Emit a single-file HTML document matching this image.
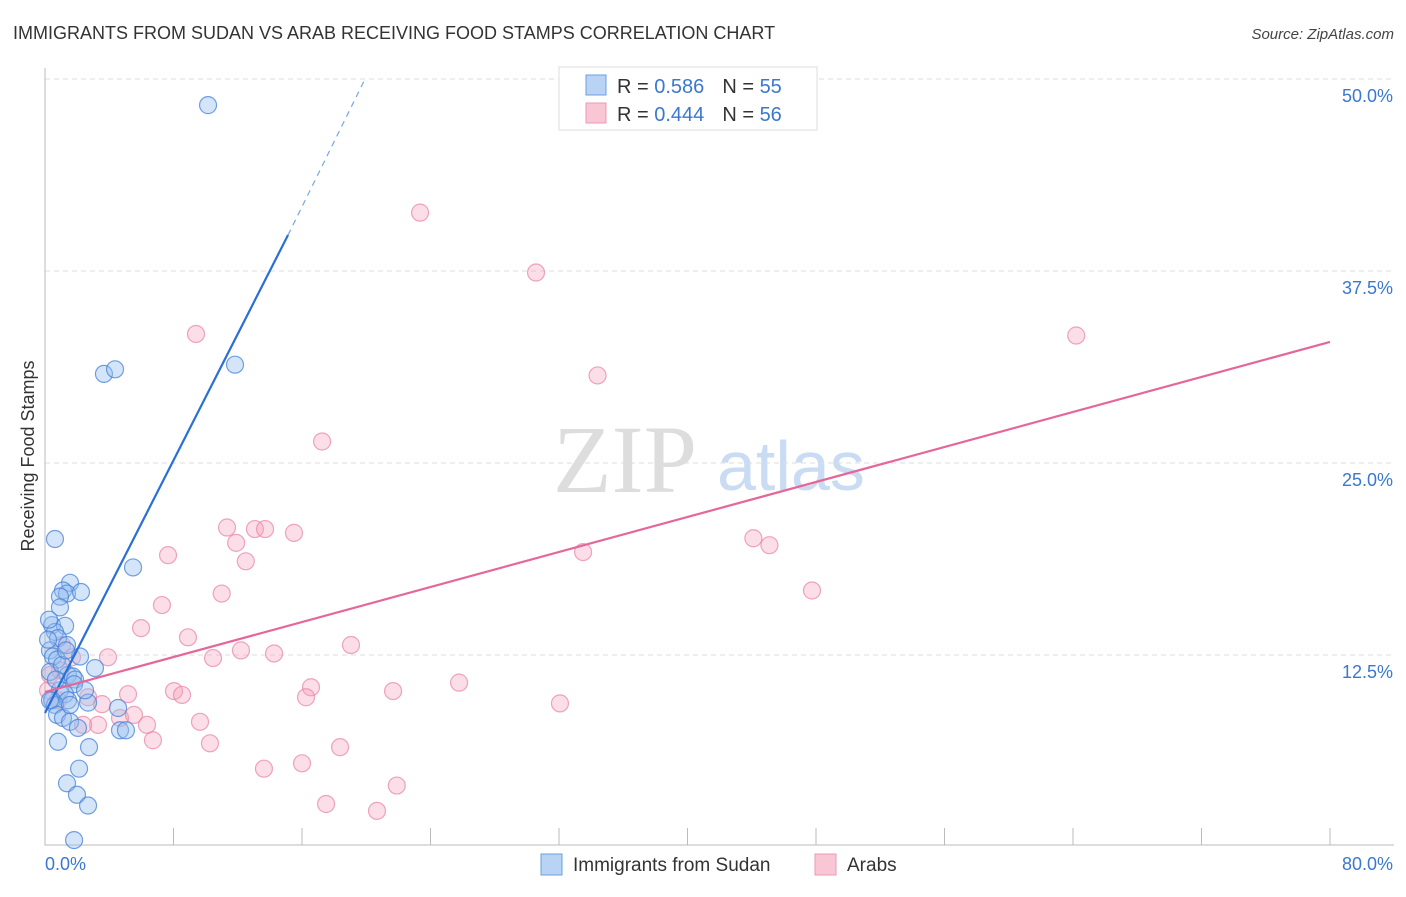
<!DOCTYPE html>
<html><head><meta charset="utf-8"><style>
body{margin:0;background:#fff;font-family:"Liberation Sans",sans-serif}
</style></head><body>
<svg id="chart" width="1406" height="892" xmlns="http://www.w3.org/2000/svg" font-family="Liberation Sans, sans-serif">
<text x="13" y="39" font-size="18" fill="#333">IMMIGRANTS FROM SUDAN VS ARAB RECEIVING FOOD STAMPS CORRELATION CHART</text>
<text x="1394" y="39" font-size="15" fill="#444" text-anchor="end" font-style="italic">Source: ZipAtlas.com</text>
<text x="553" y="492" font-size="96" fill="#ddd" font-family="Liberation Serif, serif">ZIP</text>
<text x="717" y="490" font-size="70" fill="#c9dcf3">atlas</text>
<text transform="translate(34,456) rotate(-90)" font-size="18" fill="#333" text-anchor="middle">Receiving Food Stamps</text>
<g id="grid"></g><g id="axes"></g><g id="pts"></g><g id="lines"></g>
<g>
<rect x="559" y="67" width="258" height="63" fill="#fff" stroke="#ddd"/>
<rect x="586" y="75" width="20" height="20" fill="#b9d3f5" stroke="#6a9fe0"/>
<rect x="586" y="103" width="20" height="20" fill="#f9c6d5" stroke="#eb99b3"/>
<text x="617" y="93" font-size="20" fill="#333">R = <tspan fill="#3a78d0">0.586</tspan><tspan dx="18">N = </tspan><tspan fill="#3a78d0">55</tspan></text>
<text x="617" y="121" font-size="20" fill="#333">R = <tspan fill="#3a78d0">0.444</tspan><tspan dx="18">N = </tspan><tspan fill="#3a78d0">56</tspan></text>
</g>
<g>
<rect x="541" y="854" width="21" height="21" fill="#b9d3f5" stroke="#6a9fe0"/>
<text x="573" y="871" font-size="19" fill="#333">Immigrants from Sudan</text>
<rect x="815" y="854" width="21" height="21" fill="#f9c6d5" stroke="#eb99b3"/>
<text x="847" y="871" font-size="19" fill="#333">Arabs</text>
</g>
</svg>
<script>
const xTicks=[0,8,16,24,32,40,48,56,64,72,80];
const yTicks=[12.5,25,37.5,50];
const yTickLabels=["12.5%","25.0%","37.5%","50.0%"];
const sudanX=[10.15,3.67,4.36,11.83,0.62,5.48,1.56,1.12,1.37,2.24,0.93,0.93,0.44,1.25,0.62,0.81,1.37,0.31,0.5,2.18,0.75,3.11,0.31,1.43,1.74,1.87,1.81,0.93,1.25,0.44,1.43,0.62,2.68,4.55,0.75,1.12,1.56,2.05,4.67,5.04,0.81,2.74,2.12,1.37,1.99,2.68,1.81,0.31,0.19,1.06,1.56,1.31,0.68,2.49,0.25];
const sudanY=[48.3,30.8,31.1,31.4,20.05,18.2,17.2,16.7,16.5,16.6,16.3,15.6,14.45,14.4,14.0,13.6,13.15,12.8,12.4,12.4,12.2,11.65,11.4,11.2,11.1,10.9,10.6,10.2,9.95,9.55,9.55,9.25,9.4,9.05,8.6,8.4,8.15,7.75,7.6,7.6,6.85,6.5,5.1,4.15,3.4,2.7,0.45,9.55,13.5,11.85,9.25,12.8,10.9,10.2,14.8];
const arabX=[23.35,30.57,9.4,64.2,34.4,17.25,11.33,13.07,13.7,15.5,11.9,44.1,45.1,7.66,12.5,33.5,47.75,7.28,11.0,5.98,8.9,19.05,12.2,14.26,10.46,3.92,1.06,1.68,0.93,0.19,0.31,16.56,25.78,21.67,8.03,8.53,5.17,16.25,2.68,32.06,3.55,4.67,5.54,6.35,9.65,3.3,2.37,6.72,10.27,18.37,16.0,13.63,21.9,17.5,20.67,0.81];
const arabY=[41.3,37.4,33.4,33.3,30.7,26.4,20.8,20.7,20.7,20.45,19.8,20.1,19.65,19.0,18.6,19.2,16.7,15.75,16.5,14.25,13.65,13.15,12.8,12.6,12.3,12.35,13.15,12.35,11.5,10.2,11.2,10.4,10.7,10.15,10.15,9.9,9.95,9.75,9.75,9.35,9.3,8.4,8.6,7.95,8.15,7.95,7.95,6.95,6.75,6.5,5.45,5.1,4.0,2.8,2.35,9.55];
const sudanLine=[[0,8.72],[15.13,39.84],[19.92,49.99]];
const arabLine=[[0,10.09],[80,32.88]];
const NS="http://www.w3.org/2000/svg";
const sx=v=>45+v/80*1285, sy=v=>847-v/12.5*192;
function mk(p,t,a){const e=document.createElementNS(NS,t);for(const k in a)e.setAttribute(k,a[k]);p.appendChild(e);return e;}
const grid=document.getElementById('grid'),axes=document.getElementById('axes'),pts=document.getElementById('pts'),lines=document.getElementById('lines');
yTicks.forEach((t,i)=>{
 const g=mk(grid,'line',{x1:45,x2:1394,y1:sy(t),y2:sy(t),stroke:'#ddd','stroke-dasharray':'5,4'});
 
 
 const l=mk(axes,'text',{x:1393,y:sy(t)+23,'font-size':18,fill:'#3a78d0','text-anchor':'end'});
 l.textContent=yTickLabels[i];
 
 
});
const ax=mk(axes,'path',{d:'M45,68 V845 H1394',fill:'none',stroke:'#bbb'});


xTicks.forEach(t=>{
 const k=mk(axes,'line',{x1:sx(t),x2:sx(t),y1:828,y2:845,stroke:'#bbb'});
 
 
});
const x0=mk(axes,'text',{x:45,y:870,'font-size':18,fill:'#3a78d0'});x0.textContent='0.0%';


const x1=mk(axes,'text',{x:1393,y:870,'font-size':18,fill:'#3a78d0','text-anchor':'end'});x1.textContent='80.0%';


arabX.forEach((v,i)=>{
 const c=mk(pts,'circle',{cx:sx(v),cy:sy(arabY[i]),r:8.5,fill:'rgba(244,160,186,0.35)',stroke:'rgba(232,130,162,0.7)','stroke-width':1.2});
 
 
});
sudanX.forEach((v,i)=>{
 const c=mk(pts,'circle',{cx:sx(v),cy:sy(sudanY[i]),r:8.5,fill:'rgba(150,190,240,0.4)',stroke:'rgba(70,130,215,0.75)','stroke-width':1.2});
 
 
});
const bl=mk(lines,'line',{x1:sx(sudanLine[0][0]),y1:sy(sudanLine[0][1]),x2:sx(sudanLine[1][0]),y2:sy(sudanLine[1][1]),stroke:'#2a6fd6','stroke-width':2.2});


const bd=mk(lines,'line',{x1:sx(sudanLine[1][0]),y1:sy(sudanLine[1][1]),x2:sx(sudanLine[2][0]),y2:sy(sudanLine[2][1]),stroke:'#7aa6e4','stroke-width':1.2,'stroke-dasharray':'6,5'});


const pl=mk(lines,'line',{x1:sx(arabLine[0][0]),y1:sy(arabLine[0][1]),x2:sx(arabLine[1][0]),y2:sy(arabLine[1][1]),stroke:'#e5679a','stroke-width':2.2});


</script>
</body></html>
